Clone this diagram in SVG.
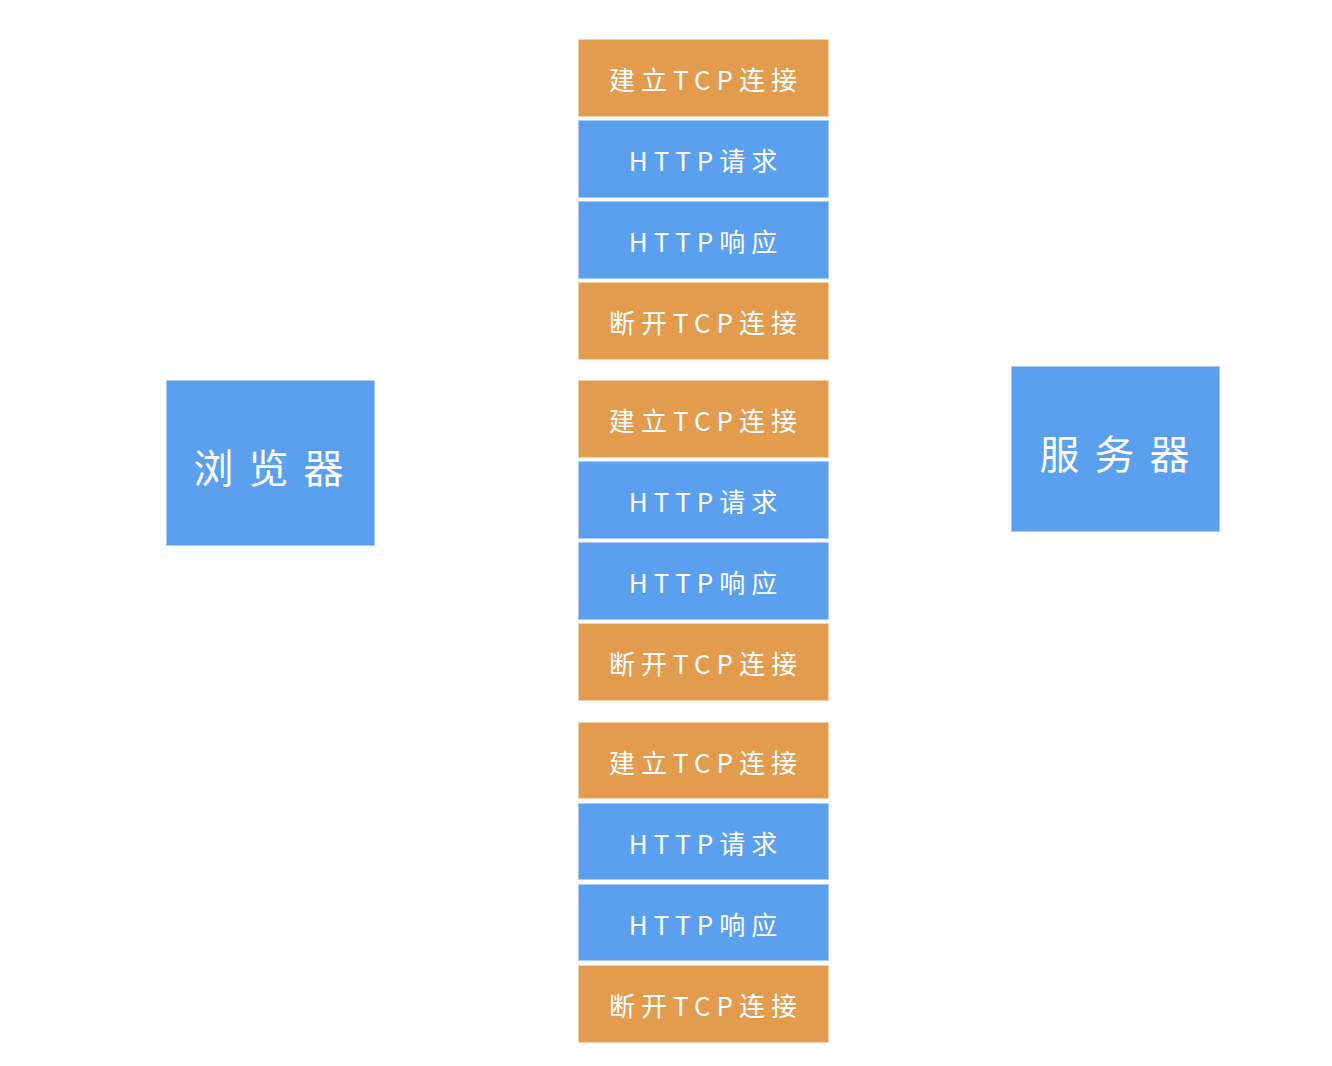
<svg xmlns="http://www.w3.org/2000/svg" width="1332" height="1066" viewBox="0 0 1332 1066">
<style>
.o{fill:#E39B4D;stroke:#F3D2AE;stroke-width:1}
.b{fill:#5B9FEF;stroke:#A9CBF5;stroke-width:1}
.t{fill:#FFFFFF;font-family:"Noto Sans CJK SC","Noto Sans",sans-serif;font-size:26px;letter-spacing:6px;text-anchor:middle;dominant-baseline:central}
.big{font-size:40px;letter-spacing:15px}
</style>
<rect width="1332" height="1066" fill="#FFFFFF"/>
<g id="connectors"></g>
<g id="browser"><rect class="b" x="166.5" y="380.5" width="208" height="165"/><text class="t big" x="276" y="466">浏览器</text></g>
<g id="server"><rect class="b" x="1011.5" y="366.5" width="208" height="165"/><text class="t big" x="1122" y="452">服务器</text></g>
<g id="g1-connect"><rect class="o" x="578.5" y="39.5" width="250" height="77"/><text class="t" x="706" y="78">建立TCP连接</text></g>
<g id="g1-request"><rect class="b" x="578.5" y="120.5" width="250" height="77"/><text class="t" x="706" y="159">HTTP请求</text></g>
<g id="g1-response"><rect class="b" x="578.5" y="201.5" width="250" height="77"/><text class="t" x="706" y="240">HTTP响应</text></g>
<g id="g1-close"><rect class="o" x="578.5" y="282.5" width="250" height="77"/><text class="t" x="706" y="321">断开TCP连接</text></g>
<g id="g2-connect"><rect class="o" x="578.5" y="380.5" width="250" height="77"/><text class="t" x="706" y="419">建立TCP连接</text></g>
<g id="g2-request"><rect class="b" x="578.5" y="461.5" width="250" height="77"/><text class="t" x="706" y="500">HTTP请求</text></g>
<g id="g2-response"><rect class="b" x="578.5" y="542.5" width="250" height="77"/><text class="t" x="706" y="581">HTTP响应</text></g>
<g id="g2-close"><rect class="o" x="578.5" y="623.5" width="250" height="77"/><text class="t" x="706" y="662">断开TCP连接</text></g>
<g id="g3-connect"><rect class="o" x="578.5" y="722.5" width="250" height="76"/><text class="t" x="706" y="761">建立TCP连接</text></g>
<g id="g3-request"><rect class="b" x="578.5" y="803.5" width="250" height="76"/><text class="t" x="706" y="842">HTTP请求</text></g>
<g id="g3-response"><rect class="b" x="578.5" y="884.5" width="250" height="76"/><text class="t" x="706" y="923">HTTP响应</text></g>
<g id="g3-close"><rect class="o" x="578.5" y="965.5" width="250" height="77"/><text class="t" x="706" y="1004">断开TCP连接</text></g>
</svg>
